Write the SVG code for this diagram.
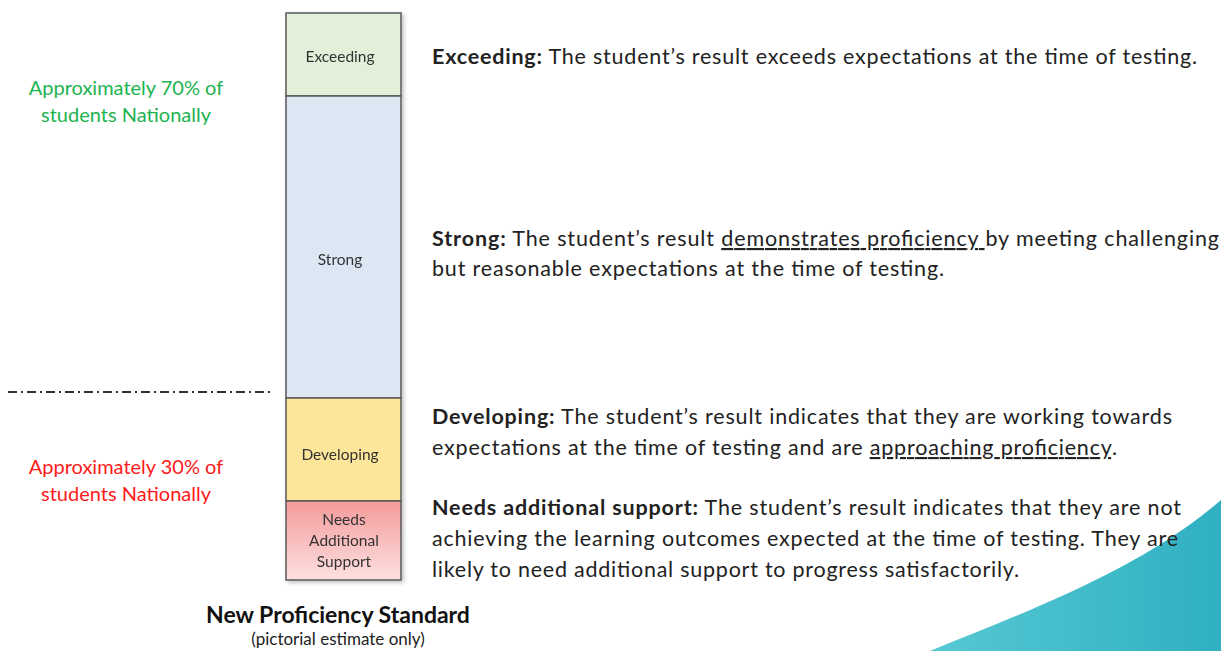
<svg xmlns="http://www.w3.org/2000/svg" width="1221" height="651" viewBox="0 0 1221 651">
<defs>
<linearGradient id="teal" x1="0" y1="0" x2="1" y2="0">
<stop offset="0" stop-color="#56c8d3"/>
<stop offset="1" stop-color="#30b0c1"/>
</linearGradient>
<linearGradient id="red" x1="0" y1="0" x2="0" y2="1">
<stop offset="0" stop-color="#f49b9b"/>
<stop offset="1" stop-color="#fde0e0"/>
</linearGradient>
<filter id="sh" x="-10%" y="-10%" width="130%" height="130%">
<feGaussianBlur in="SourceAlpha" stdDeviation="2"/>
<feOffset dx="2" dy="2"/>
<feComponentTransfer><feFuncA type="linear" slope="0.25"/></feComponentTransfer>
<feMerge><feMergeNode/><feMergeNode in="SourceGraphic"/></feMerge>
</filter>
</defs>
<style>
text{font-family:Lato,"Open Sans",sans-serif;}
.seg{stroke:#595959;stroke-width:1.5;}
.lbl{font-size:15.5px;fill:#333;text-anchor:middle;}
.desc{font-size:21.5px;fill:#222;}
.b{font-weight:bold;}
.pct{font-size:20px;text-anchor:middle;}
</style>
<rect width="1221" height="651" fill="#ffffff"/>
<path id="wave" d="M930 651 C1030 610 1140 570 1221 500 L1221 651 Z" fill="url(#teal)"/>
<g id="connectors">
<line x1="8" y1="392" x2="272" y2="392" stroke="#333" stroke-width="2" stroke-dasharray="9,4,2,4"/>
</g>
<g id="bar" filter="url(#sh)">
<g id="exceeding"><rect class="seg" x="286" y="13" width="115" height="83" fill="#e2efd9"/><text class="lbl" x="340" y="62">Exceeding</text></g>
<g id="strong"><rect class="seg" x="286" y="96" width="115" height="302" fill="#dce7f3"/><text class="lbl" x="340" y="265">Strong</text></g>
<g id="developing"><rect class="seg" x="286" y="398" width="115" height="103" fill="#fde59a"/><text class="lbl" x="340" y="460">Developing</text></g>
<g id="needs"><rect class="seg" x="286" y="501" width="115" height="79" fill="url(#red)"/><text class="lbl" x="344" y="525">Needs</text><text class="lbl" x="344" y="546">Additional</text><text class="lbl" x="344" y="567">Support</text></g>
</g>
<g id="pct70">
<text class="pct" x="126" y="95" fill="#1db34f">Approximately 70% of</text>
<text class="pct" x="126" y="122" fill="#1db34f">students Nationally</text>
</g>
<g id="pct30">
<text class="pct" x="126" y="474" fill="#ff1a1a">Approximately 30% of</text>
<text class="pct" x="126" y="501" fill="#ff1a1a">students Nationally</text>
</g>
<g id="caption">
<text x="338" y="623" font-size="23px" font-weight="bold" text-anchor="middle" fill="#111">New Proficiency Standard</text>
<text x="338" y="645" font-size="17px" text-anchor="middle" fill="#222">(pictorial estimate only)</text>
</g>
<g id="desc-exceeding">
<text class="desc" x="432" y="64" textLength="765" lengthAdjust="spacing"><tspan class="b">Exceeding:</tspan> The student’s result exceeds expectations at the time of testing.</text>
</g>
<g id="desc-strong">
<text class="desc" x="432" y="246" textLength="787" lengthAdjust="spacing"><tspan class="b">Strong:</tspan> The student’s result <tspan text-decoration="underline">demonstrates proficiency </tspan>by meeting challenging</text>
<text class="desc" x="432" y="276" textLength="512" lengthAdjust="spacing">but reasonable expectations at the time of testing.</text>
</g>
<g id="desc-developing">
<text class="desc" x="432" y="424" textLength="740" lengthAdjust="spacing"><tspan class="b">Developing:</tspan> The student’s result indicates that they are working towards</text>
<text class="desc" x="432" y="455" textLength="685" lengthAdjust="spacing">expectations at the time of testing and are <tspan text-decoration="underline">approaching proficiency</tspan>.</text>
</g>
<g id="desc-needs">
<text class="desc" x="432" y="515" textLength="749" lengthAdjust="spacing"><tspan class="b">Needs additional support:</tspan> The student’s result indicates that they are not</text>
<text class="desc" x="432" y="546" textLength="746" lengthAdjust="spacing">achieving the learning outcomes expected at the time of testing. They are</text>
<text class="desc" x="432" y="577" textLength="587" lengthAdjust="spacing">likely to need additional support to progress satisfactorily.</text>
</g>
</svg>
